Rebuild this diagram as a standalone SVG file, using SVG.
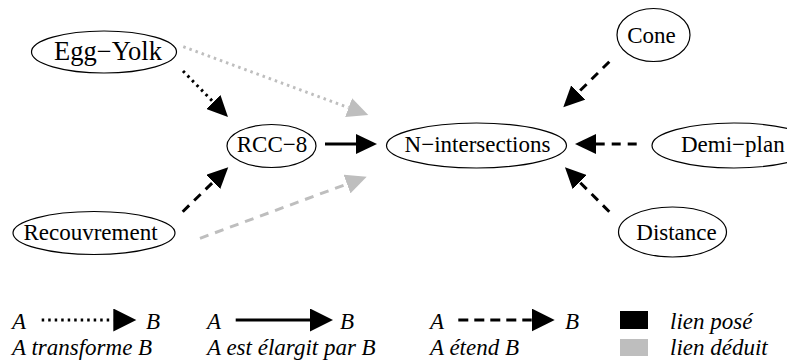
<svg xmlns="http://www.w3.org/2000/svg" width="787" height="363" viewBox="0 0 787 363">
<style>
text{font-family:'Liberation Serif','Times New Roman',Times,'DejaVu Serif',serif;font-size:23px;fill:#000}
.lbl{text-anchor:middle}
.it{font-style:italic}
.node ellipse{fill:#fff;stroke:#000;stroke-width:1.2}
.e{fill:none;stroke-width:3}
.blk{stroke:#000}
.gry{stroke:#bebebe}
.dot{stroke-dasharray:2.5 4}
.dash{stroke-dasharray:9 7}
.ldash{stroke-dasharray:10 6}
</style>
<defs>
<marker id="ab" markerUnits="userSpaceOnUse" markerWidth="22" markerHeight="20" viewBox="0 0 22 20" refX="0" refY="10" orient="auto"><path d="M0,0 L21,10 L0,20 z" fill="#000"/></marker>
<marker id="ag" markerUnits="userSpaceOnUse" markerWidth="22" markerHeight="20" viewBox="0 0 22 20" refX="0" refY="10" orient="auto"><path d="M0,0 L21,10 L0,20 z" fill="#bebebe"/></marker>
<marker id="al" markerUnits="userSpaceOnUse" markerWidth="24" markerHeight="23" viewBox="0 0 24 23" refX="0" refY="11.5" orient="auto"><path d="M0,0 L23,11.5 L0,23 z" fill="#000"/></marker>
</defs>
<g id="connectors">
<line class="e blk dot" x1="183" y1="71" x2="213.3" y2="102" marker-end="url(#ab)"/>
<line class="e gry dot" x1="183.3" y1="46.7" x2="348.6" y2="107.7" marker-end="url(#ag)"/>
<line class="e blk" x1="325" y1="144" x2="356" y2="144" marker-end="url(#ab)"/>
<line class="e blk dash" x1="182.7" y1="211.7" x2="213.2" y2="182" marker-end="url(#ab)"/>
<line class="e gry dash" x1="200" y1="238.3" x2="347" y2="184" marker-end="url(#ag)"/>
<line class="e blk dash" x1="609.3" y1="61.7" x2="578.2" y2="92.5" marker-end="url(#ab)"/>
<line class="e blk dash" x1="636.7" y1="144" x2="596" y2="144" marker-end="url(#ab)"/>
<line class="e blk dash" x1="609.3" y1="211.7" x2="579.8" y2="182.2" marker-end="url(#ab)"/>
</g>
<g id="node-eggyolk" class="node"><ellipse cx="104" cy="52" rx="72.5" ry="21"/><text class="lbl" x="108" y="60" style="font-size:26.5px">Egg−Yolk</text></g>
<g id="node-rcc8" class="node"><ellipse cx="271.5" cy="146" rx="44.5" ry="21.5"/><text class="lbl" x="272" y="152">RCC−8</text></g>
<g id="node-nint" class="node"><ellipse cx="476.5" cy="145.5" rx="90" ry="22.5"/><text class="lbl" x="477.5" y="152">N−intersections</text></g>
<g id="node-recouvrement" class="node"><ellipse cx="94" cy="233" rx="81" ry="21.5"/><text class="lbl" x="90.5" y="240">Recouvrement</text></g>
<g id="node-cone" class="node"><ellipse cx="653.5" cy="35" rx="36.5" ry="26.5"/><text class="lbl" x="651.5" y="43">Cone</text></g>
<g id="node-demiplan" class="node"><ellipse cx="734" cy="145.5" rx="82" ry="22.5"/><text x="681" y="152">Demi−plan</text></g>
<g id="node-distance" class="node"><ellipse cx="672.5" cy="232" rx="54" ry="25"/><text class="lbl" x="676.5" y="240">Distance</text></g>
<g id="legend">
<text class="it" x="12" y="329">A</text>
<line class="e blk dot" x1="41.7" y1="320" x2="113.3" y2="320" marker-end="url(#al)"/>
<text class="it" x="146" y="329">B</text>
<text class="it" x="12" y="355">A transforme B</text>
<text class="it" x="207" y="329">A</text>
<line class="e blk" x1="235.7" y1="320" x2="310" y2="320" marker-end="url(#al)"/>
<text class="it" x="340" y="329">B</text>
<text class="it" x="207" y="355">A est élargit par B</text>
<text class="it" x="430" y="329">A</text>
<line class="e blk ldash" x1="458.3" y1="320" x2="531.7" y2="320" marker-end="url(#al)"/>
<text class="it" x="565" y="329">B</text>
<text class="it" x="430" y="355">A étend B</text>
<rect x="620" y="311" width="28" height="18" fill="#000"/>
<rect x="620" y="339" width="28" height="17" fill="#bebebe"/>
<text class="it" x="670" y="329">lien posé</text>
<text class="it" x="670" y="355">lien déduit</text>
</g>
</svg>
